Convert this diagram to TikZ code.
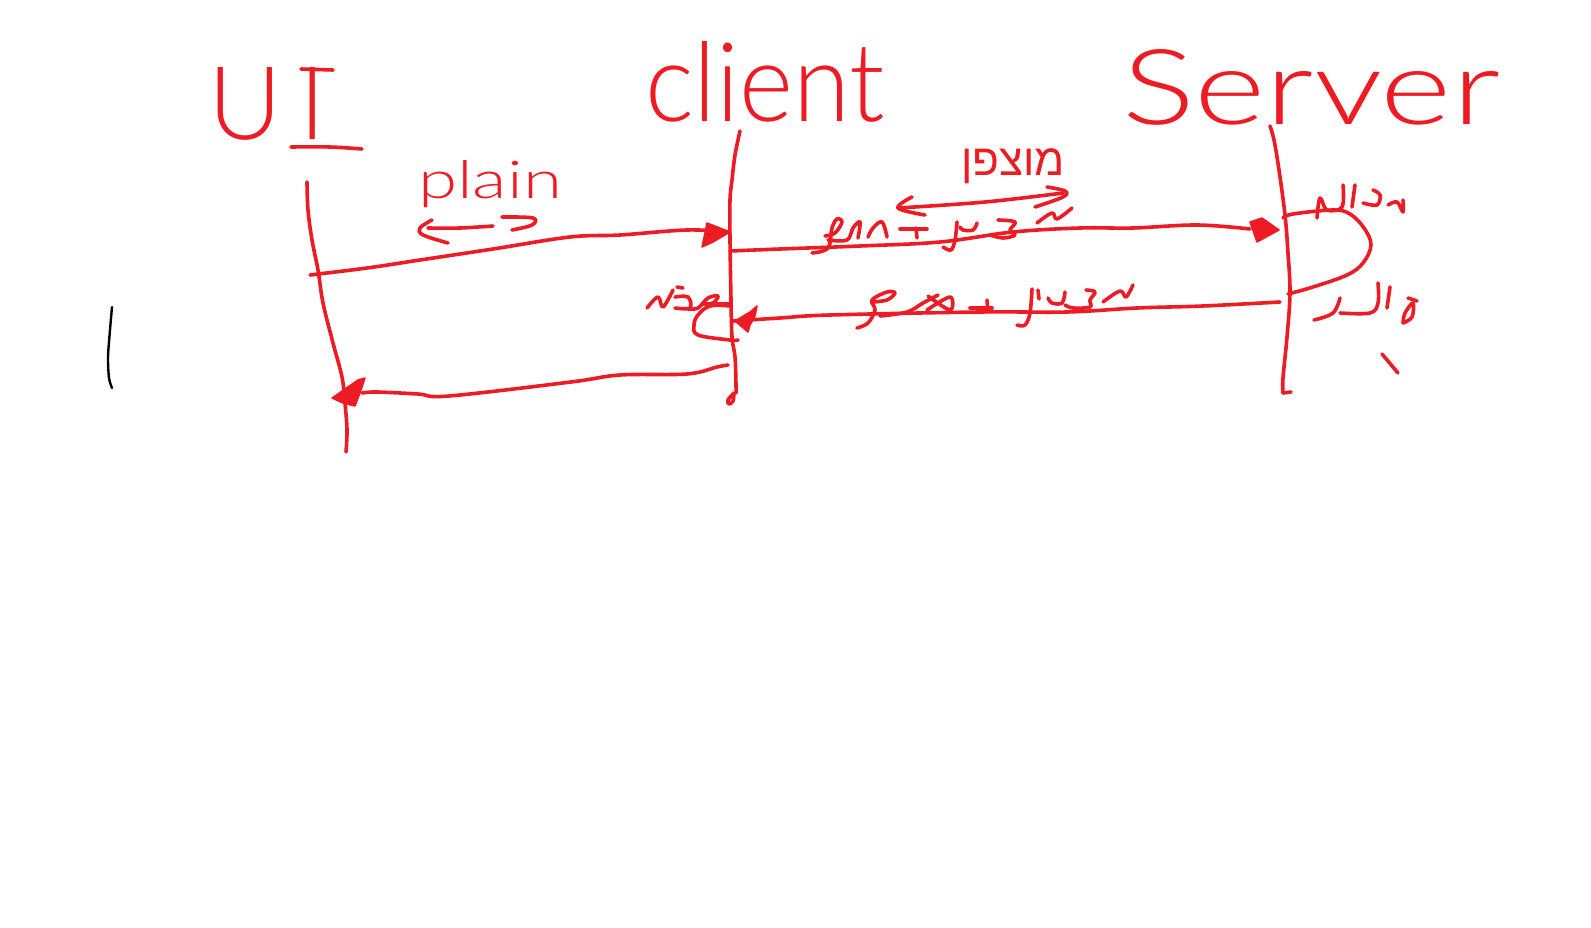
\documentclass[tikz,border=0pt]{standalone}
\usepackage{fontspec}
\usepackage{graphicx}
\TeXXeTstate=1
\newfontfamily\handfont[UprightFont=* Light]{Lato}
\newfontfamily\hebfont[Script=Hebrew]{Liberation Sans}
\definecolor{penred}{HTML}{ED1C24}
\newcommand\handline[1]{\draw[pen] plot[smooth,tension=.6] coordinates {#1};}
\newcommand\handblob[1]{\fill[penred,draw=penred,line width=1.5pt,line join=round] plot coordinates {#1} -- cycle;}
\tikzset{
  pen/.style={draw=penred,line width=3.6pt,line cap=round,line join=round},
  word/.style={inner sep=0pt,outer sep=0pt,text=penred,font=\handfont\fontsize{90}{90}\selectfont},
  hebword/.style={inner sep=0pt,outer sep=0pt,text=penred,font=\hebfont\fontsize{44}{44}\selectfont}
}
\begin{document}
\begin{tikzpicture}[x=1pt,y=-1pt]
\useasboundingbox (0,0) rectangle (1591,928);
\fill[white] (0,0) rectangle (1591,928);
% titles
\node[word,anchor=south west] (ui) at (208,140) {\resizebox{118pt}{72pt}{U\kern 16pt I}};
\node[word,anchor=south west] (client) at (645,122) {\resizebox{240pt}{80pt}{client}};
\node[word,anchor=south west] (server) at (1122,125) {\resizebox{378pt}{75pt}{Server}};
\node[word,anchor=base west] (plain) at (418,199) {\resizebox{144pt}{38pt}{plain}};
\node[hebword,anchor=base] (enc) at (1013,176) {\beginR מוצפן\endR};
% bars of the I
\handline{(301,69)(333,70)}
\handline{(291,147)(330,147)(362,149)}
% lifelines
\handline{(307,182)(308,210)(312,240)(318,270)(323,303)(333,343)(342,377)(345,403)(347,430)(346,452)}
\handline{(740,131)(735,155)(732,180)(730,200)(730,240)(731,300)(732,337)(735,357)(736,385)(736,393)}
\handline{(734,393)(728,400)(729,404)(733,401)(734,393)}
\handline{(1270,126)(1274,140)(1279,170)(1285,215)(1288,253)(1290,293)(1287,337)(1283,378)(1283,393)}
\draw[pen] (1283,393) -- (1291,392);
% UI to client
\handline{(310,275)(367,268)(420,260)(493,249)(570,237)(620,235)(687,230)(730,232)}
\handblob{(707,223)(730,232)(713,242)(702,247)}
% client to server
\handline{(730,251)(780,249)(860,246)(940,242)(1013,232)(1080,228)(1133,228)(1197,225)(1250,229)}
\handblob{(1250,222)(1262,218)(1279,230)(1257,242)}
% server to client
\handline{(1280,302)(1203,306)(1137,308)(1067,312)(980,312)(830,315)(780,318)(733,321)}
\handblob{(735,321)(750,312)(757,306)(755,316)(750,325)(748,332)}
% client to UI
\handline{(728,365)(717,367)(687,374)(620,375)(571,382)(449,396)(418,394)(377,392)(362,393)}
\handblob{(332,398)(358,380)(365,378)(360,393)(355,406)(343,403)}
% server loop
\handline{(1283,218)(1293,214)(1333,210)(1350,214)(1364,228)(1371,245)(1363,263)(1347,275)(1313,287)(1288,294)}
% client loop
\handline{(730,306)(710,306)(698,315)(694,325)(698,335)(730,340)(738,340)}
% double arrows
\handline{(428,228)(460,228)(493,226)}
\handline{(432,220)(420,228)(423,235)(448,243)}
\handline{(502,217)(533,218)(532,225)(512,230)}
\handline{(898,208)(985,202)(1063,193)}
\handline{(912,197)(898,208)(925,215)}
\handline{(1047,187)(1065,191)(1063,197)(1035,207)}
% upper label
\handline{(812,253)(828,248)(832,228)(837,219)(842,222)(835,233)(825,236)}
\handline{(828,240)(847,240)(853,228)(860,222)(858,238)}
\handline{(868,237)(873,228)(882,222)(887,237)}
\handline{(900,229)(927,229)}
\handline{(916,228)(917,238)}
\handline{(957,222)(955,240)(951,250)(943,247)}
\handline{(960,227)(963,230)(973,230)(977,223)}
\handline{(998,220)(1015,222)(1010,230)(1015,235)(1003,238)(990,235)}
\handline{(1037,223)(1052,213)(1057,219)(1072,208)}
% lower label
\handline{(857,328)(868,323)(875,310)(872,300)(887,292)(895,293)(887,300)(872,302)}
\handline{(880,316)(907,312)(923,303)(938,295)}
\handline{(928,296)(950,310)(950,297)(927,310)}
\handline{(970,308)(992,308)}
\handline{(987,300)(988,312)}
\handline{(1032,289)(1030,313)(1025,325)(1017,325)}
\handline{(1038,290)(1039,299)}
\handline{(1048,298)(1052,303)(1062,303)(1065,292)}
\handline{(1086,290)(1095,292)(1090,300)(1090,307)(1073,308)(1065,305)}
\handline{(1103,302)(1120,291)(1126,297)(1133,285)}
% client side label
\handline{(647,308)(658,297)(663,307)(673,290)}
\handline{(677,287)(683,288)}
\handline{(675,297)(688,297)(690,308)(675,308)}
\handline{(688,309)(698,308)(708,298)(718,296)(713,303)(703,304)}
\handline{(703,304)(720,304)(730,304)}
% server side labels
\handline{(1317,218)(1320,198)(1327,210)(1342,207)(1343,185)}
\handline{(1355,185)(1352,207)}
\handline{(1363,203)(1377,205)(1380,195)(1373,190)}
\handline{(1388,205)(1397,202)(1403,212)(1403,200)}
\handline{(1314,320)(1333,313)(1340,298)}
\handline{(1340,313)(1370,313)(1378,303)(1378,283)}
\handline{(1390,287)(1387,308)}
\handline{(1403,323)(1405,313)(1413,303)(1412,317)(1403,323)}
\handline{(1408,298)(1417,301)}
% marks
\handline{(1382,354)(1398,373)}
\draw[black,line width=2.4pt,line cap=round] plot[smooth] coordinates {(112,307)(110,330)(108,357)(109,378)(112,388)};
\end{tikzpicture}
\end{document}
